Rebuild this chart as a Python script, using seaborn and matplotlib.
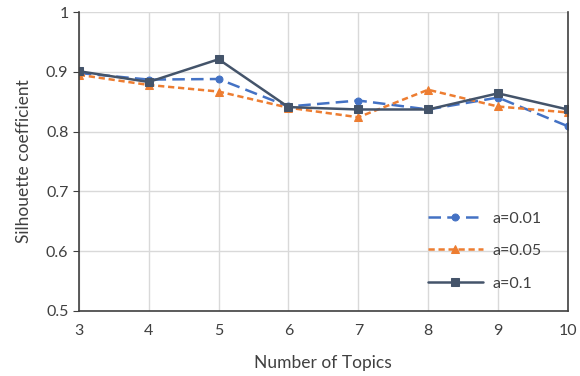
import pandas as pd
import seaborn as sns
import matplotlib.pyplot as plt

# data
topics = [3, 4, 5, 6, 7, 8, 9, 10]
a001 = [0.898, 0.887, 0.888, 0.842, 0.852, 0.837, 0.857, 0.809]
a005 = [0.895, 0.878, 0.867, 0.840, 0.824, 0.870, 0.842, 0.832]
a01 = [0.901, 0.883, 0.921, 0.841, 0.837, 0.837, 0.864, 0.837]
labels = ['a=0.01', 'a=0.05', 'a=0.1']

sns.set_style('white')
plt.rcParams['font.family'] = ['Lato', 'DejaVu Sans']

fig = plt.figure(figsize=(5.8, 3.76), dpi=100)
ax = fig.add_axes([0.136, 0.173, 0.843, 0.795])

styles = [
    (a001, '#4472C4', 'o', (5, 2.5), 5),
    (a005, '#ED7D31', '^', (2.5, 1.5), 5.5),
    (a01, '#44546A', 's', None, 5.5),
]
for (vals, col, mk, dash, ms), lab in zip(styles, labels):
    df = pd.DataFrame({'topics': topics, 'sil': vals})
    sns.lineplot(data=df, x='topics', y='sil', ax=ax, color=col, marker=mk,
                 markersize=ms, markeredgecolor=col, linewidth=1.8, label=lab)
    if dash is not None:
        ax.lines[-1].set_dashes(dash)

ax.set_xlim(3, 10)
ax.set_ylim(0.5, 1)
ax.set_xticks(topics)
ax.set_yticks([0.5, 0.6, 0.7, 0.8, 0.9, 1.0])
ax.set_yticklabels(['0.5', '0.6', '0.7', '0.8', '0.9', '1'])
ax.grid(True, color='#D9D9D9', linewidth=1)
ax.set_axisbelow(True)
for s in ['left', 'bottom', 'right']:
    ax.spines[s].set_color('#404040')
    ax.spines[s].set_linewidth(1.2)
ax.spines['top'].set_visible(False)
ax.tick_params(axis='y', left=True, length=4, color='#404040', labelsize=11.5)
ax.tick_params(axis='x', bottom=False, labelsize=11.5, pad=6)
for t in ax.get_yticklabels() + ax.get_xticklabels():
    t.set_color('#404040')

ax.set_xlabel('Number of Topics', fontsize=12.5, color='#404040', labelpad=12)
ax.set_ylabel('Silhouette coefficient', fontsize=12.5, color='#404040', labelpad=10)

leg = ax.legend(loc='lower right', bbox_to_anchor=(0.975, 0.02), frameon=False,
                fontsize=11.5, handlelength=3.4, labelspacing=1.15, handletextpad=0.6)
for t in leg.get_texts():
    t.set_color('#404040')

fig.savefig('out.png', dpi=100)
